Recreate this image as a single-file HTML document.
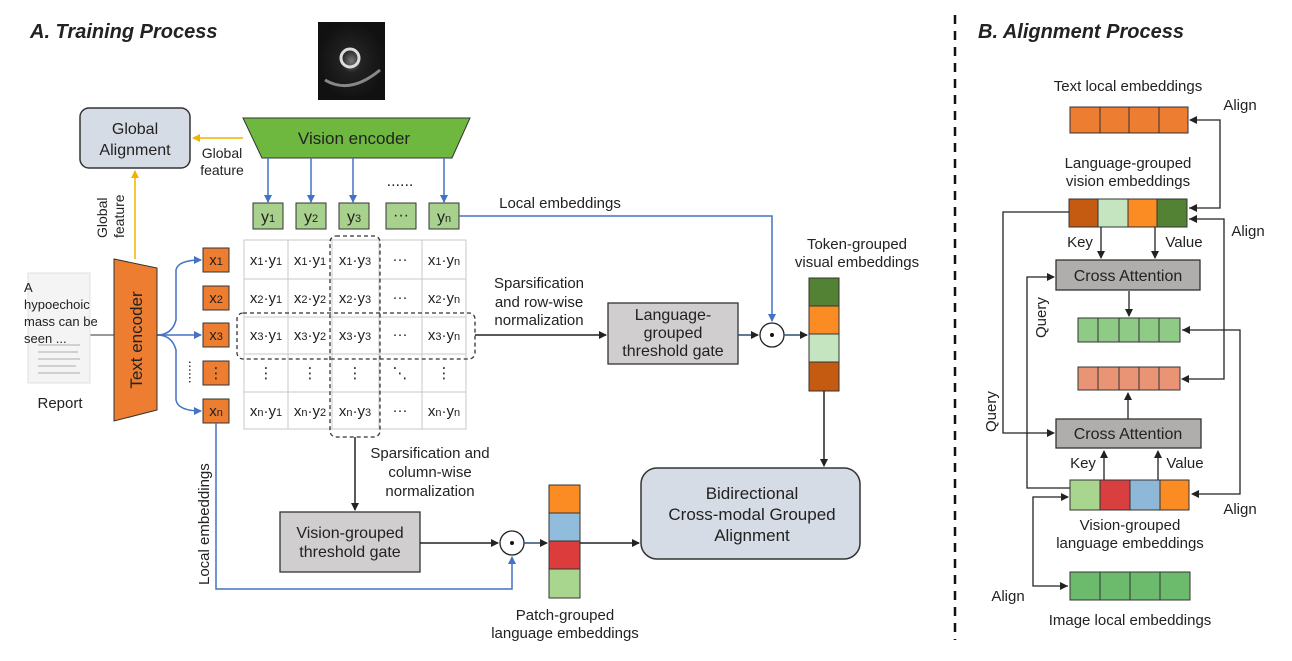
<!DOCTYPE html>
<html><head><meta charset="utf-8"><style>
body{margin:0;background:#fff}
svg{display:block;font-family:"Liberation Sans","DejaVu Sans",sans-serif}
text{fill:#222}
tspan{font-size:11px}
</style></head><body>
<svg width="1292" height="661" viewBox="0 0 1292 661" xmlns="http://www.w3.org/2000/svg">
<defs>
<marker id="ab" markerWidth="8" markerHeight="8" refX="7" refY="4" orient="auto" markerUnits="userSpaceOnUse"><path d="M0,0 L8,4 L0,8 z" fill="#4472c4"/></marker>
<marker id="ak" markerWidth="8" markerHeight="8" refX="7" refY="4" orient="auto" markerUnits="userSpaceOnUse"><path d="M0,0 L8,4 L0,8 z" fill="#222"/></marker>
<marker id="ay" markerWidth="8" markerHeight="8" refX="7" refY="4" orient="auto" markerUnits="userSpaceOnUse"><path d="M0,0 L8,4 L0,8 z" fill="#f0b400"/></marker>
<marker id="as" markerWidth="8" markerHeight="8" refX="0" refY="4" orient="auto" markerUnits="userSpaceOnUse"><path d="M8,0 L0,4 L8,8 z" fill="#222"/></marker>
<radialGradient id="us" cx="0.5" cy="0.5" r="0.5"><stop offset="0" stop-color="#777"/><stop offset="0.3" stop-color="#222"/><stop offset="1" stop-color="#111"/></radialGradient>
</defs>
<text x="30" y="38" font-size="20" font-weight="bold" font-style="italic">A. Training Process</text>
<text x="978" y="38" font-size="20" font-weight="bold" font-style="italic">B. Alignment Process</text>
<line x1="955" y1="15" x2="955" y2="640" stroke="#111" stroke-width="2.5" stroke-dasharray="9,7"/>

<rect x="318" y="22" width="67" height="78" fill="url(#us)"/>
<circle cx="350" cy="58" r="9" fill="none" stroke="#ddd" stroke-width="3"/>
<path d="M325,80 Q350,95 380,70" stroke="#888" stroke-width="3" fill="none"/>

<polygon points="243,118 470,118 452,158 262,158" fill="#6fb83f" stroke="#333"/>
<text x="354" y="144" font-size="17" text-anchor="middle">Vision encoder</text>
<rect x="80" y="108" width="110" height="60" rx="9" fill="#d6dce5" stroke="#333" stroke-width="1.5"/>
<text x="135" y="134" font-size="16" text-anchor="middle">Global</text>
<text x="135" y="155" font-size="16" text-anchor="middle">Alignment</text>
<line x1="243" y1="138" x2="193" y2="138" stroke="#f0b400" stroke-width="1.5" marker-end="url(#ay)"/>
<text x="222" y="158" font-size="14" text-anchor="middle">Global</text>
<text x="222" y="175" font-size="14" text-anchor="middle">feature</text>
<line x1="135" y1="259" x2="135" y2="171" stroke="#f0b400" stroke-width="1.5" marker-end="url(#ay)"/>
<text transform="translate(107,238) rotate(-90)" font-size="14">Global</text>
<text transform="translate(124,238) rotate(-90)" font-size="14">feature</text>

<g stroke="#4472c4" stroke-width="1.5" marker-end="url(#ab)">
<line x1="268" y1="158" x2="268" y2="202"/><line x1="311" y1="158" x2="311" y2="202"/>
<line x1="353" y1="158" x2="353" y2="202"/><line x1="444" y1="158" x2="444" y2="202"/>
</g>
<text x="400" y="186" font-size="16" text-anchor="middle">......</text>
<g fill="#a9d18e" stroke="#333">
<rect x="253" y="203" width="30" height="26"/><rect x="296" y="203" width="30" height="26"/>
<rect x="339" y="203" width="30" height="26"/><rect x="386" y="203" width="30" height="26"/>
<rect x="429" y="203" width="30" height="26"/></g>
<g font-size="16" text-anchor="middle">
<text x="268" y="222">y<tspan>1</tspan></text><text x="311" y="222">y<tspan>2</tspan></text>
<text x="354" y="222">y<tspan>3</tspan></text><text x="401" y="220">···</text>
<text x="444" y="222">y<tspan>n</tspan></text></g>
<polyline points="459,216 772,216 772,321" fill="none" stroke="#4472c4" stroke-width="1.5" marker-end="url(#ab)"/>
<text x="560" y="208" font-size="15" text-anchor="middle">Local embeddings</text>

<g stroke="#c8c8c8" stroke-width="1">
<rect x="244" y="240" width="222" height="189" fill="#fff"/>
<line x1="288" y1="240" x2="288" y2="429"/><line x1="332" y1="240" x2="332" y2="429"/>
<line x1="379" y1="240" x2="379" y2="429"/><line x1="422" y1="240" x2="422" y2="429"/>
<line x1="244" y1="279" x2="466" y2="279"/><line x1="244" y1="317" x2="466" y2="317"/>
<line x1="244" y1="354" x2="466" y2="354"/><line x1="244" y1="392" x2="466" y2="392"/>
</g>
<g font-size="15" text-anchor="middle">
<text x="266" y="265">x<tspan>1</tspan>·y<tspan>1</tspan></text><text x="310" y="265">x<tspan>1</tspan>·y<tspan>1</tspan></text><text x="355" y="265">x<tspan>1</tspan>·y<tspan>3</tspan></text><text x="400" y="264">···</text><text x="444" y="265">x<tspan>1</tspan>·y<tspan>n</tspan></text>
<text x="266" y="303">x<tspan>2</tspan>·y<tspan>1</tspan></text><text x="310" y="303">x<tspan>2</tspan>·y<tspan>2</tspan></text><text x="355" y="303">x<tspan>2</tspan>·y<tspan>3</tspan></text><text x="400" y="302">···</text><text x="444" y="303">x<tspan>2</tspan>·y<tspan>n</tspan></text>
<text x="266" y="340">x<tspan>3</tspan>·y<tspan>1</tspan></text><text x="310" y="340">x<tspan>3</tspan>·y<tspan>2</tspan></text><text x="355" y="340">x<tspan>3</tspan>·y<tspan>3</tspan></text><text x="400" y="339">···</text><text x="444" y="340">x<tspan>3</tspan>·y<tspan>n</tspan></text>
<text x="266" y="378">⋮</text><text x="310" y="378">⋮</text><text x="355" y="378">⋮</text><text x="400" y="378">⋱</text><text x="444" y="378">⋮</text>
<text x="266" y="416">x<tspan>n</tspan>·y<tspan>1</tspan></text><text x="310" y="416">x<tspan>n</tspan>·y<tspan>2</tspan></text><text x="355" y="416">x<tspan>n</tspan>·y<tspan>3</tspan></text><text x="400" y="415">···</text><text x="444" y="416">x<tspan>n</tspan>·y<tspan>n</tspan></text>
</g>
<rect x="330" y="236" width="50" height="201" rx="6" fill="none" stroke="#333" stroke-width="1.3" stroke-dasharray="4,3"/>
<rect x="237" y="313" width="238" height="46" rx="6" fill="none" stroke="#333" stroke-width="1.3" stroke-dasharray="4,3"/>

<g fill="#ed7d31" stroke="#333">
<rect x="203" y="248" width="26" height="24"/><rect x="203" y="286" width="26" height="24"/>
<rect x="203" y="323" width="26" height="24"/><rect x="203" y="361" width="26" height="24"/>
<rect x="203" y="399" width="26" height="24"/></g>
<g font-size="15" text-anchor="middle">
<text x="216" y="265">x<tspan>1</tspan></text><text x="216" y="303">x<tspan>2</tspan></text>
<text x="216" y="340">x<tspan>3</tspan></text><text x="216" y="378">⋮</text><text x="216" y="416">x<tspan>n</tspan></text></g>
<g fill="none" stroke="#4472c4" stroke-width="1.5">
<path d="M157,335 Q172,335 176,320 L176,270 Q178,260 201,260" marker-end="url(#ab)"/>
<line x1="157" y1="335" x2="201" y2="335" marker-end="url(#ab)"/>
<path d="M157,335 Q172,335 176,350 L176,400 Q178,411 201,411" marker-end="url(#ab)"/>
</g>
<text x="189" y="372" font-size="14" text-anchor="middle" transform="rotate(90 189 372)">......</text>

<polygon points="114,259 157,268 157,410 114,421" fill="#ed7d31" stroke="#333"/>
<text transform="translate(142,340) rotate(-90)" font-size="17" text-anchor="middle">Text encoder</text>
<line x1="90" y1="335" x2="114" y2="335" stroke="#333"/>
<rect x="28" y="273" width="62" height="110" fill="#f4f4f4" stroke="#e0e0e0"/>
<g stroke="#d0d0d0" stroke-width="2"><line x1="38" y1="345" x2="80" y2="345"/><line x1="38" y1="352" x2="78" y2="352"/><line x1="38" y1="359" x2="80" y2="359"/><line x1="38" y1="366" x2="76" y2="366"/><line x1="38" y1="373" x2="80" y2="373"/></g>
<g font-size="13"><text x="24" y="292">A</text><text x="24" y="309">hypoechoic</text><text x="24" y="326">mass can be</text><text x="24" y="343">seen ...</text></g>
<text x="60" y="408" font-size="15" text-anchor="middle">Report</text>

<line x1="475" y1="335" x2="606" y2="335" stroke="#222" stroke-width="1.5" marker-end="url(#ak)"/>
<g font-size="15" text-anchor="middle"><text x="539" y="288">Sparsification</text><text x="539" y="307">and row-wise</text><text x="539" y="325">normalization</text></g>
<rect x="608" y="303" width="130" height="61" fill="#d0cece" stroke="#333" stroke-width="1.3"/>
<g font-size="16" text-anchor="middle"><text x="673" y="320">Language-</text><text x="673" y="338">grouped</text><text x="673" y="356">threshold gate</text></g>
<line x1="738" y1="335" x2="758" y2="335" stroke="#2f4f6f" stroke-width="1.5" marker-end="url(#ak)"/>
<circle cx="772" cy="335" r="12" fill="#fff" stroke="#222" stroke-width="1.3"/><circle cx="772" cy="335" r="2" fill="#111"/>
<line x1="784" y1="335" x2="807" y2="335" stroke="#2f4f6f" stroke-width="1.5" marker-end="url(#ak)"/>
<g stroke="#333"><rect x="809" y="278" width="30" height="28" fill="#548235"/><rect x="809" y="306" width="30" height="28" fill="#fb8c24"/><rect x="809" y="334" width="30" height="28" fill="#c5e5c0"/><rect x="809" y="362" width="30" height="29" fill="#c55a11"/></g>
<g font-size="15" text-anchor="middle"><text x="857" y="249">Token-grouped</text><text x="857" y="267">visual embeddings</text></g>
<line x1="824" y1="391" x2="824" y2="466" stroke="#222" stroke-width="1.5" marker-end="url(#ak)"/>
<rect x="641" y="468" width="219" height="91" rx="16" fill="#d6dce5" stroke="#333" stroke-width="1.5"/>
<g font-size="17" text-anchor="middle"><text x="752" y="499">Bidirectional</text><text x="752" y="520">Cross-modal Grouped</text><text x="752" y="541">Alignment</text></g>

<line x1="355" y1="437" x2="355" y2="510" stroke="#222" stroke-width="1.5" marker-end="url(#ak)"/>
<g font-size="15" text-anchor="middle"><text x="430" y="458">Sparsification and</text><text x="430" y="477">column-wise</text><text x="430" y="496">normalization</text></g>
<rect x="280" y="512" width="140" height="60" fill="#d0cece" stroke="#333" stroke-width="1.3"/>
<g font-size="16" text-anchor="middle"><text x="350" y="538">Vision-grouped</text><text x="350" y="557">threshold gate</text></g>
<line x1="420" y1="543" x2="498" y2="543" stroke="#222" stroke-width="1.5" marker-end="url(#ak)"/>
<circle cx="512" cy="543" r="12" fill="#fff" stroke="#222" stroke-width="1.3"/><circle cx="512" cy="543" r="2" fill="#111"/>
<line x1="524" y1="543" x2="547" y2="543" stroke="#2f4f6f" stroke-width="1.5" marker-end="url(#ak)"/>
<polyline points="216,423 216,589 512,589 512,557" fill="none" stroke="#4472c4" stroke-width="1.5" marker-end="url(#ab)"/>
<text transform="translate(209,585) rotate(-90)" font-size="15">Local embeddings</text>
<g stroke="#333"><rect x="549" y="485" width="31" height="28" fill="#fb8c24"/><rect x="549" y="513" width="31" height="28" fill="#92bcdc"/><rect x="549" y="541" width="31" height="28" fill="#dc3c3c"/><rect x="549" y="569" width="31" height="29" fill="#a9d68e"/></g>
<line x1="580" y1="543" x2="639" y2="543" stroke="#222" stroke-width="1.5" marker-end="url(#ak)"/>
<g font-size="15" text-anchor="middle"><text x="565" y="620">Patch-grouped</text><text x="565" y="638">language embeddings</text></g>

<text x="1128" y="91" font-size="15" text-anchor="middle">Text local embeddings</text>
<g stroke="#333" fill="#ed7d31"><rect x="1070" y="107" width="30" height="26"/><rect x="1100" y="107" width="29" height="26"/><rect x="1129" y="107" width="30" height="26"/><rect x="1159" y="107" width="29" height="26"/></g>
<text x="1240" y="110" font-size="15" text-anchor="middle">Align</text>
<g font-size="15" text-anchor="middle"><text x="1128" y="168">Language-grouped</text><text x="1128" y="186">vision embeddings</text></g>
<g stroke="#333"><rect x="1069" y="199" width="29" height="28" fill="#c55a11"/><rect x="1098" y="199" width="30" height="28" fill="#c5e5c0"/><rect x="1128" y="199" width="29" height="28" fill="#fb8c24"/><rect x="1157" y="199" width="30" height="28" fill="#548235"/></g>
<g fill="none" stroke="#222" stroke-width="1.3">
<polyline points="1189,208 1220,208 1220,120 1190,120" marker-start="url(#as)" marker-end="url(#ak)"/>
<polyline points="1189,219 1224,219 1224,379 1182,379" marker-start="url(#as)" marker-end="url(#ak)"/>
<polyline points="1182,330 1240,330 1240,494 1192,494" marker-start="url(#as)" marker-end="url(#ak)"/>
<line x1="1101" y1="227" x2="1101" y2="258" marker-end="url(#ak)"/>
<line x1="1155" y1="227" x2="1155" y2="258" marker-end="url(#ak)"/>
<line x1="1129" y1="291" x2="1129" y2="316" marker-end="url(#ak)"/>
<line x1="1128" y1="419" x2="1128" y2="393" marker-end="url(#ak)"/>
<line x1="1104" y1="480" x2="1104" y2="451" marker-end="url(#ak)"/>
<line x1="1158" y1="480" x2="1158" y2="451" marker-end="url(#ak)"/>
<polyline points="1069,212 1003,212 1003,433 1054,433" marker-end="url(#ak)"/>
<polyline points="1070,488 1027,488 1027,277 1054,277" marker-end="url(#ak)"/>
<polyline points="1068,586 1033,586 1033,497 1068,497" marker-start="url(#as)" marker-end="url(#ak)"/>
</g>
<text x="1248" y="236" font-size="15" text-anchor="middle">Align</text>
<text x="1080" y="247" font-size="15" text-anchor="middle">Key</text>
<text x="1184" y="247" font-size="15" text-anchor="middle">Value</text>
<rect x="1056" y="260" width="144" height="30" fill="#b0adad" stroke="#333" stroke-width="1.3"/>
<text x="1128" y="281" font-size="16" text-anchor="middle">Cross Attention</text>
<text transform="translate(1046,338) rotate(-90)" font-size="15">Query</text>
<g stroke="#333" fill="#8fcb87"><rect x="1078" y="318" width="20" height="24"/><rect x="1098" y="318" width="21" height="24"/><rect x="1119" y="318" width="20" height="24"/><rect x="1139" y="318" width="20" height="24"/><rect x="1159" y="318" width="21" height="24"/></g>
<g stroke="#333" fill="#e99575"><rect x="1078" y="367" width="20" height="23"/><rect x="1098" y="367" width="21" height="23"/><rect x="1119" y="367" width="20" height="23"/><rect x="1139" y="367" width="20" height="23"/><rect x="1159" y="367" width="21" height="23"/></g>
<text transform="translate(996,432) rotate(-90)" font-size="15">Query</text>
<rect x="1056" y="419" width="145" height="29" fill="#b0adad" stroke="#333" stroke-width="1.3"/>
<text x="1128" y="439" font-size="16" text-anchor="middle">Cross Attention</text>
<text x="1083" y="468" font-size="15" text-anchor="middle">Key</text>
<text x="1185" y="468" font-size="15" text-anchor="middle">Value</text>
<g stroke="#333"><rect x="1070" y="480" width="30" height="30" fill="#a9d68e"/><rect x="1100" y="480" width="30" height="30" fill="#d93f3f"/><rect x="1130" y="480" width="30" height="30" fill="#8fb8d8"/><rect x="1160" y="480" width="29" height="30" fill="#fb8c24"/></g>
<text x="1240" y="514" font-size="15" text-anchor="middle">Align</text>
<g font-size="15" text-anchor="middle"><text x="1130" y="530">Vision-grouped</text><text x="1130" y="548">language embeddings</text></g>
<g stroke="#333" fill="#6cbb6c"><rect x="1070" y="572" width="30" height="28"/><rect x="1100" y="572" width="30" height="28"/><rect x="1130" y="572" width="30" height="28"/><rect x="1160" y="572" width="30" height="28"/></g>
<text x="1008" y="601" font-size="15" text-anchor="middle">Align</text>
<text x="1130" y="625" font-size="15" text-anchor="middle">Image local embeddings</text>
</svg>
</body></html>
